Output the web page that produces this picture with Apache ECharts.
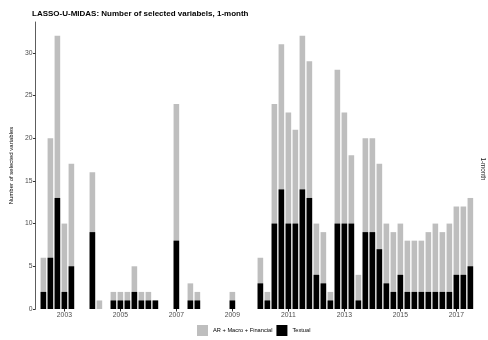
<!DOCTYPE html>
<html>
<head>
<meta charset="utf-8">
<script src="https://cdn.jsdelivr.net/npm/echarts@6/dist/echarts.min.js"></script>
<style>html,body{margin:0;padding:0;background:#fff}#c{width:488px;height:340px}</style>
</head>
<body>
<div id="c"></div>
<script>
// Quarter dates (decimal years)
const dates = [2002.25,2002.5,2002.75,2003.0,2003.25,2004.0,2004.25,2004.75,2005.0,2005.25,2005.5,2005.75,2006.0,2006.25,
  2007.0,2007.5,2007.75,2009.0,2010.0,2010.25,2010.5,2010.75,2011.0,2011.25,2011.5,2011.75,2012.0,2012.25,2012.5,2012.75,
  2013.0,2013.25,2013.5,2013.75,2014.0,2014.25,2014.5,2014.75,2015.0,2015.25,2015.5,2015.75,2016.0,2016.25,2016.5,2016.75,
  2017.0,2017.25,2017.5];
// Total number of selected variables
const totals = [6,20,32,10,17,16,1,2,2,2,5,2,2,1,
  24,3,2,2,6,2,24,31,23,21,32,29,10,9,2,28,
  23,18,4,20,20,17,10,9,10,8,8,8,9,10,9,10,
  12,12,13];
// Textual variables
const textual = [2,6,13,2,5,9,0,1,1,1,2,1,1,1,
  8,1,1,1,3,1,10,14,10,10,14,13,4,3,1,10,
  10,10,1,9,9,7,3,2,4,2,2,2,2,2,2,2,
  4,4,5];
const yearTicks = [2003,2005,2007,2009,2011,2013,2015,2017];
const yTicks = [0,5,10,15,20,25,30];

const chart = echarts.init(document.getElementById('c'), null, {renderer:'canvas'});
const font = 'Liberation Sans, Arial, sans-serif';
chart.setOption({
  animation:false,
  title:{text:'LASSO-U-MIDAS: Number of selected variabels, 1-month', left:27, top:5,
    textStyle:{fontFamily:font, fontSize:8, fontWeight:'bold', color:'#000'}},
  grid:{left:26.5, right:14, top:22, bottom:31},
  legend:{bottom:4, left:197, padding:0, itemWidth:11, itemHeight:11, itemGap:4,
    textStyle:{fontFamily:font, fontSize:5.7, color:'#000'},
    data:[{name:'AR + Macro + Financial', icon:'rect'},{name:'Textual', icon:'rect'}]},
  xAxis:{type:'value', min:2001.967, max:2017.63,
    axisLine:{show:false},
    axisTick:{show:true, length:2.5, lineStyle:{color:'#333'}, customValues:yearTicks},
    axisLabel:{customValues:yearTicks, fontFamily:font, fontSize:6.8, color:'#4d4d4d', margin:3,
      formatter:v=>String(Math.round(v))},
    splitLine:{show:false}},
  yAxis:{type:'value', min:0, max:33.6,
    name:'Number of selected variables', nameLocation:'middle', nameGap:15, nameRotate:90,
    nameTextStyle:{fontFamily:font, fontSize:6, color:'#000'},
    axisLine:{show:true, lineStyle:{color:'#333', width:0.8}},
    axisTick:{show:true, length:2.5, lineStyle:{color:'#333'}, customValues:yTicks},
    axisLabel:{customValues:yTicks, fontFamily:font, fontSize:6.8, color:'#4d4d4d', margin:3},
    splitLine:{show:false}},
  series:[
    {name:'AR + Macro + Financial', type:'bar', barWidth:5.6, barGap:'-100%', itemStyle:{color:'#bebebe'},
      data:dates.map((d,i)=>[d,totals[i]])},
    {name:'Textual', type:'bar', barWidth:5.6, barGap:'-100%', itemStyle:{color:'#000'},
      data:dates.map((d,i)=>[d,textual[i]])}
  ],
  graphic:[{type:'text', x:483, y:169, rotation:-Math.PI/2,
    style:{text:'1-month', font:'6.3px '+font, fill:'#1a1a1a', textAlign:'center', textVerticalAlign:'middle'}}]
});
</script>
</body>
</html>
